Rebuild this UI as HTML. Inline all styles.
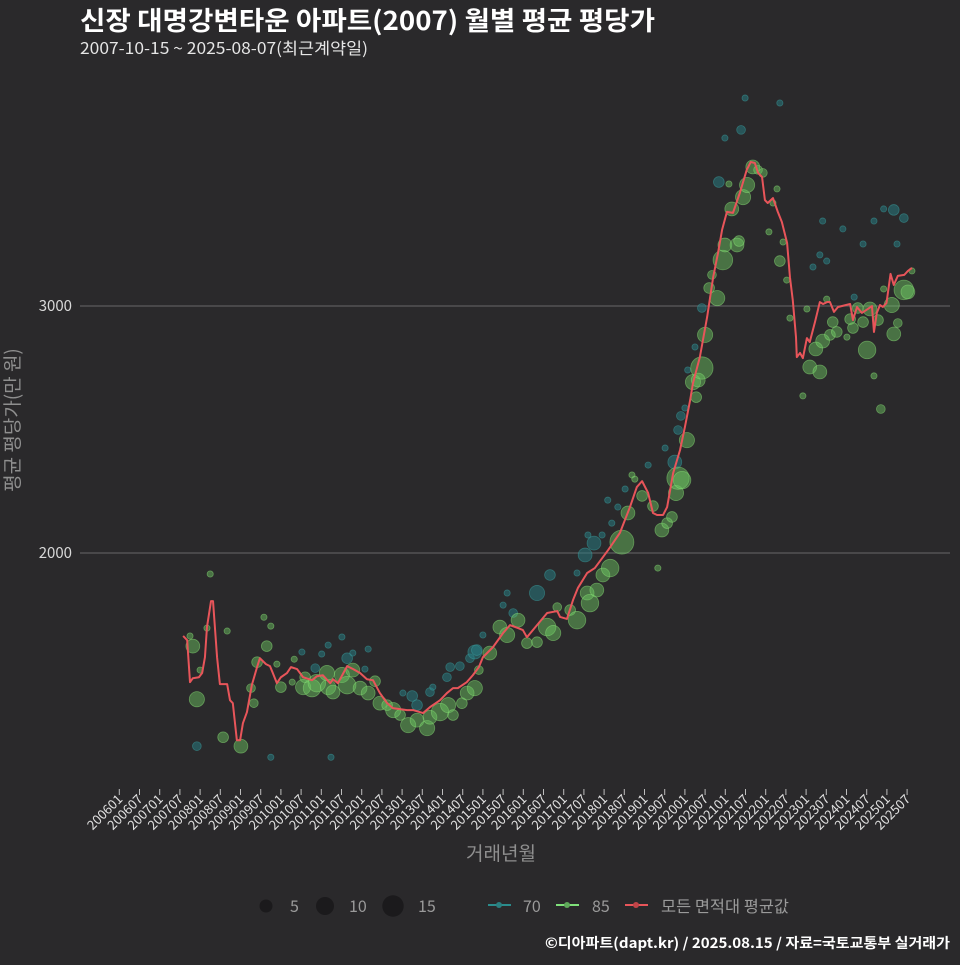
<!DOCTYPE html>
<html><head><meta charset="utf-8">
<style>
html,body{margin:0;padding:0;background:#2a292b;}
body{width:960px;height:960px;overflow:hidden;font-family:"Noto Sans CJK KR","Liberation Sans",sans-serif;}
svg text{font-family:"Noto Sans CJK KR","Liberation Sans",sans-serif;}
</style></head>
<body>
<svg id="chart" width="960" height="960" viewBox="0 0 960 960" xmlns="http://www.w3.org/2000/svg">
<rect width="960" height="960" fill="#2a292b"/>
<text x="80" y="30" fill="#ffffff" font-size="26" font-weight="bold" textLength="575" lengthAdjust="spacingAndGlyphs">신장 대명강변타운 아파트(2007) 월별 평균 평당가</text>
<text x="80" y="54" fill="#e6e6e6" font-size="16" textLength="288" lengthAdjust="spacingAndGlyphs">2007-10-15 ~ 2025-08-07(최근계약일)</text>
<g id="grid"></g>
<g id="yaxis"></g>
<g id="xaxis"></g>
<g id="bub70"></g>
<g id="bub85"></g>
<g id="avg"></g>
<text x="501" y="860" text-anchor="middle" fill="#8f8f8f" font-size="19">거래년월</text>
<text transform="translate(19,420) rotate(-90)" text-anchor="middle" fill="#8f8f8f" font-size="19">평균 평당가(만 원)</text>
<g>
 <g><circle cx="266" cy="906" r="6.5" fill="#1b1a1c"/><text x="290" y="912" fill="#9a9a9a" font-size="16">5</text></g>
 <g><circle cx="325" cy="906" r="9" fill="#1b1a1c"/><text x="349" y="912" fill="#9a9a9a" font-size="16">10</text></g>
 <g><circle cx="393" cy="906" r="10.7" fill="#1b1a1c"/><text x="418" y="912" fill="#9a9a9a" font-size="16">15</text></g>
 <g><line x1="488" y1="905" x2="511" y2="905" stroke="#2a8c8c" stroke-width="2"/><circle cx="499" cy="905" r="3" fill="#2a7f80"/><text x="523" y="912" fill="#9a9a9a" font-size="16">70</text></g>
 <g><line x1="556" y1="905" x2="579" y2="905" stroke="#7fe07a" stroke-width="2"/><circle cx="567" cy="905" r="3" fill="#5fa85a"/><text x="592" y="912" fill="#9a9a9a" font-size="16">85</text></g>
 <g><line x1="625" y1="905" x2="648" y2="905" stroke="#e8555a" stroke-width="2"/><circle cx="636" cy="905" r="3" fill="#c04448"/><text x="661" y="912" fill="#9a9a9a" font-size="16" textLength="128" lengthAdjust="spacingAndGlyphs">모든 면적대 평균값</text></g>
</g>
<text x="950" y="948" text-anchor="end" fill="#ffffff" font-size="14" font-weight="bold" textLength="405" lengthAdjust="spacingAndGlyphs">©디아파트(dapt.kr) / 2025.08.15 / 자료=국토교통부 실거래가</text>
</svg>
<script>
const yTicks=[2000,3000];
const xTickLabels=[];
for(let y=2006;y<=2025;y++){xTickLabels.push(y+'01');xTickLabels.push(y+'07');}
const avgT=[2007.58,2007.68,2007.75,2007.82,2007.97,2008.05,2008.12,2008.17,2008.27,2008.32,2008.42,2008.49,2008.67,2008.74,2008.81,2008.91,2008.99,2009.06,2009.16,2009.28,2009.41,2009.48,2009.63,2009.73,2009.80,2009.90,2010.00,2010.15,2010.25,2010.40,2010.55,2010.77,2010.89,2011.04,2011.22,2011.29,2011.41,2011.64,2011.79,2011.96,2012.13,2012.28,2012.45,2012.63,2012.77,2013.12,2013.27,2013.52,2013.69,2013.94,2014.11,2014.26,2014.38,2014.60,2014.75,2014.90,2015.00,2015.25,2015.50,2015.67,2015.87,2015.99,2016.09,2016.34,2016.59,2016.84,2016.91,2017.08,2017.23,2017.35,2017.58,2017.77,2017.97,2018.10,2018.39,2018.64,2018.81,2018.94,2019.09,2019.21,2019.31,2019.46,2019.56,2019.71,2019.88,2020.00,2020.13,2020.20,2020.37,2020.55,2020.70,2020.82,2020.92,2021.04,2021.19,2021.36,2021.53,2021.63,2021.73,2021.81,2021.91,2021.98,2022.05,2022.18,2022.30,2022.40,2022.53,2022.60,2022.67,2022.75,2022.77,2022.85,2022.92,2023.02,2023.09,2023.22,2023.34,2023.42,2023.52,2023.59,2023.69,2023.79,2024.09,2024.16,2024.26,2024.38,2024.53,2024.63,2024.68,2024.75,2024.83,2024.90,2024.99,2025.09,2025.17,2025.27,2025.43,2025.52,2025.62];
const avgV=[1664,1647,1477,1493,1497,1514,1578,1700,1805,1805,1578,1469,1469,1404,1392,1242,1242,1311,1356,1465,1538,1574,1550,1542,1514,1473,1497,1514,1538,1530,1497,1485,1501,1505,1473,1489,1473,1542,1530,1514,1489,1485,1433,1392,1372,1364,1364,1352,1376,1404,1433,1453,1453,1477,1505,1538,1578,1619,1676,1708,1696,1688,1659,1708,1757,1765,1741,1733,1809,1858,1919,1939,1983,2012,2081,2186,2267,2291,2243,2162,2154,2154,2186,2324,2417,2510,2619,2688,2793,2955,3117,3215,3308,3381,3377,3458,3551,3583,3579,3539,3522,3429,3417,3437,3381,3340,3255,3117,3024,2874,2793,2810,2789,2870,2854,2935,3016,3008,3016,3016,2976,2996,3008,2943,2996,2972,2988,3000,2895,2972,3004,2996,3012,3130,3085,3122,3126,3142,3154];
const g85T=[2007.82,2007.92,2008.25,2009.58,2009.75,2008.67,2007.75,2008.17,2008.0,2009.90,2009.65,2009.41,2009.26,2009.33,2008.57,2009.01,2010.0,2010.33,2010.28,2010.60,2010.55,2010.77,2010.89,2011.14,2011.17,2011.29,2011.51,2011.64,2011.78,2011.96,2012.16,2012.33,2012.45,2012.63,2012.78,2012.95,2013.15,2013.37,2013.62,2013.69,2013.94,2014.14,2014.26,2014.48,2014.61,2014.80,2014.90,2015.17,2015.42,2015.60,2015.87,2016.09,2016.34,2016.59,2016.74,2016.84,2017.16,2017.33,2017.58,2017.65,2017.82,2017.97,2018.15,2018.44,2018.59,2018.69,2018.76,2018.94,2019.21,2019.33,2019.43,2019.56,2019.68,2019.78,2019.83,2019.93,2020.05,2020.20,2020.28,2020.33,2020.42,2020.50,2020.60,2020.67,2020.80,2020.94,2020.99,2021.29,2021.34,2021.16,2021.44,2021.54,2021.68,2021.81,2021.93,2021.09,2022.28,2022.18,2022.08,2022.43,2022.35,2022.52,2022.60,2023.02,2023.51,2022.92,2023.09,2023.34,2023.24,2023.41,2023.59,2023.76,2023.66,2024.01,2024.16,2024.09,2024.28,2024.41,2024.58,2024.78,2024.51,2024.68,2024.85,2024.92,2025.12,2025.27,2025.17,2025.42,2025.52,2025.62];
const g85V=[1623,1408,1915,1740,1704,1684,1664,1696,1526,1550,1623,1558,1453,1392,1254,1218,1457,1570,1477,1497,1457,1453,1473,1514,1457,1437,1506,1465,1526,1453,1433,1481,1392,1384,1364,1344,1303,1323,1291,1335,1356,1384,1344,1392,1433,1453,1526,1595,1700,1668,1728,1635,1639,1700,1676,1781,1769,1728,1838,1797,1850,1911,1939,2044,2162,2316,2299,2231,2190,1939,2093,2121,2146,2243,2303,2295,2457,2692,2631,2700,2749,2883,3073,3126,3032,3186,3247,3247,3263,3393,3441,3490,3563,3551,3539,3494,3474,3417,3300,3259,3182,3105,2951,2988,3028,2636,2753,2733,2826,2858,2883,2895,2935,2874,2911,2947,2992,2935,2988,2943,2822,2717,2583,3069,3004,2931,2887,3065,3057,3142];
const g85N=[5,6,1,1,1,1,1,1,1,1,3,3,2,2,3,5,3,1,1,3,6,8,8,6,6,5,6,8,5,5,5,3,5,3,6,3,6,5,6,5,8,6,3,3,5,6,2,5,5,6,5,3,3,8,6,2,3,8,5,8,5,5,8,15,5,1,1,3,3,1,5,3,3,6,13,8,6,6,3,5,13,6,3,2,6,10,5,5,3,5,6,6,5,2,2,1,1,1,1,1,3,1,1,1,1,1,5,5,5,5,3,3,3,1,3,3,3,3,5,3,8,1,2,1,6,2,5,10,5,1];
const t70T=[2007.92,2009.75,2011.24,2011.51,2011.17,2010.52,2011.01,2011.64,2011.78,2012.16,2010.85,2012.08,2013.02,2013.25,2013.37,2013.69,2013.76,2014.11,2014.19,2014.43,2014.68,2014.80,2014.85,2015.0,2015.50,2015.60,2015.75,2016.34,2016.66,2017.33,2017.53,2017.75,2017.60,2017.95,2018.19,2018.34,2018.09,2018.52,2019.09,2019.51,2019.75,2019.83,2019.90,2020.0,2020.07,2020.25,2020.42,2020.84,2020.99,2021.39,2021.49,2022.35,2023.41,2023.91,2024.68,2024.92,2025.17,2025.42,2024.41,2025.25,2023.34,2023.51,2023.17,2024.19];
const t70V=[1218,1173,1173,1660,1627,1599,1591,1574,1595,1611,1534,1530,1433,1421,1384,1437,1457,1497,1538,1542,1574,1599,1607,1668,1789,1838,1757,1838,1911,1919,1992,2040,2073,2073,2121,2186,2214,2259,2356,2425,2368,2498,2555,2587,2741,2834,2992,3502,3680,3713,3842,3822,3344,3312,3344,3393,3389,3356,3251,3251,3207,3182,3158,3036];
const t70N=[2,1,1,1,1,1,1,3,1,1,2,1,1,3,3,2,1,2,2,2,2,5,3,1,1,1,2,6,3,1,5,5,1,1,1,1,1,1,1,1,5,2,2,1,1,1,2,3,1,2,1,1,1,1,1,1,3,2,1,1,1,1,1,1];

const NS='http://www.w3.org/2000/svg';
const X=t=>119.3+(t-2006)*40.4;
const Y=v=>306+(3000-v)*0.247;
const R=n=>3.1*Math.sqrt(n);
function mk(tag,attrs,parent){const e=document.createElementNS(NS,tag);for(const k in attrs)e.setAttribute(k,attrs[k]);parent.appendChild(e);return e;}
const grid=document.getElementById('grid'),yax=document.getElementById('yaxis'),xax=document.getElementById('xaxis');
yTicks.forEach(v=>{
 const l=mk('line',{x1:80,x2:950,y1:Y(v),y2:Y(v),stroke:'#5c5b5d','stroke-width':1.2},grid);
 
 
 const t=mk('text',{x:72,y:Y(v)+5,'text-anchor':'end',fill:'#d8d8d8','font-size':15},yax);
 t.textContent=v;
 
 
});
xTickLabels.forEach(lab=>{
 const yr=+lab.slice(0,4),mo=+lab.slice(4);
 const x=X(yr+(mo-1)/12);
 const tk=mk('line',{x1:x,x2:x,y1:789,y2:795,stroke:'#bdbdbd','stroke-width':1},xax);
 
 
 const t=mk('text',{transform:`translate(${x+4},${800}) rotate(-45)`,'text-anchor':'end',fill:'#e0e0e0','font-size':13},xax);
 t.textContent=lab;
 
 
});
function bubbles(T,V,N,g,fill,stroke){
 T.forEach((t,i)=>{
  const c=mk('circle',{cx:X(t),cy:Y(V[i]),r:R(N[i]),fill:fill,stroke:stroke,'stroke-width':0.8},g);
  
  
 });
}
bubbles(t70T,t70V,t70N,document.getElementById('bub70'),'rgba(38,130,135,0.5)','rgba(60,160,160,0.5)');
bubbles(g85T,g85V,g85N,document.getElementById('bub85'),'rgba(110,205,100,0.45)','rgba(140,225,120,0.5)');
const p=mk('polyline',{points:avgT.map((t,i)=>X(t)+','+Y(avgV[i])).join(' '),fill:'none',stroke:'#e8555a','stroke-width':2,'stroke-linejoin':'round'},document.getElementById('avg'));


</script>
</body></html>
